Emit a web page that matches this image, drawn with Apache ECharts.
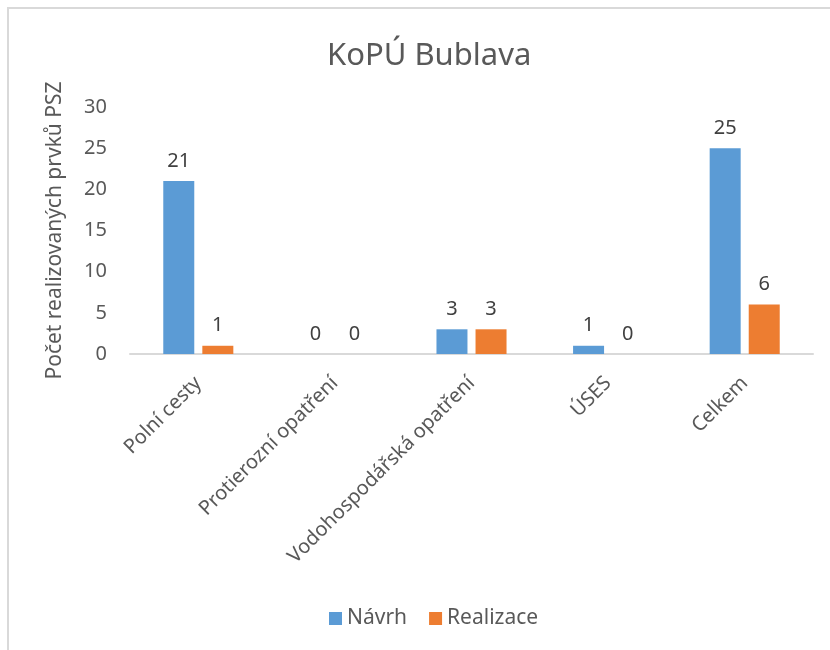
<!DOCTYPE html>
<html>
<head>
<meta charset="utf-8">
<script src="https://cdn.jsdelivr.net/npm/echarts@6/dist/echarts.min.js"></script>
<style>
  html, body { margin: 0; padding: 0; background: #fff; }
  #chart { width: 830px; height: 650px; }
</style>
</head>
<body>
<div id="chart"></div>
<script>
const categories = ['Polní cesty', 'Protierozní opatření', 'Vodohospodářská opatření', 'ÚSES', 'Celkem']
const navrh = [21, 0, 3, 1, 25]
const realizace = [1, 0, 3, 0, 6]
const seriesNames = ['Návrh', 'Realizace']

const font = 'Noto Sans'
const textColor = '#595959'

const chart = echarts.init(document.getElementById('chart'))

const valueLabel = {
  show: true,
  position: 'top',
  distance: 10,
  fontFamily: font,
  fontSize: 20,
  color: '#404040'
}

chart.setOption({
  backgroundColor: '#fff',
  animation: false,
  title: {
    text: 'KoPÚ Bublava',
    left: 322,
    top: 36,
    textStyle: {
      fontFamily: font,
      fontSize: 31,
      fontWeight: 'normal',
      color: textColor
    }
  },
  legend: {
    data: seriesNames,
    top: 603,
    left: 324,
    itemWidth: 13,
    itemHeight: 13,
    itemGap: 22,
    icon: 'rect',
    textStyle: {
      fontFamily: font,
      fontSize: 21,
      color: textColor
    }
  },
  grid: {
    left: 130,
    right: 17,
    top: 107,
    bottom: 296
  },
  xAxis: {
    type: 'category',
    data: categories,
    axisLine: { lineStyle: { color: '#d9d9d9', width: 2 } },
    axisTick: { show: false },
    axisLabel: {
      rotate: 45,
      interval: 0,
      margin: 26,
      fontFamily: font,
      fontSize: 20,
      color: textColor
    }
  },
  yAxis: {
    type: 'value',
    min: 0,
    max: 30,
    interval: 5,
    name: 'Počet realizovaných prvků PSZ',
    nameLocation: 'middle',
    nameGap: 64,
    nameTextStyle: {
      fontFamily: font,
      fontSize: 21,
      color: textColor
    },
    axisLine: { show: false },
    axisTick: { show: false },
    splitLine: { show: false },
    axisLabel: {
      margin: 23,
      fontFamily: font,
      fontSize: 20,
      color: textColor
    }
  },
  series: [
    {
      name: seriesNames[0],
      type: 'bar',
      data: navrh,
      barWidth: 31,
      barGap: '26%',
      itemStyle: { color: '#5B9BD5' },
      label: valueLabel
    },
    {
      name: seriesNames[1],
      type: 'bar',
      data: realizace,
      barWidth: 31,
      itemStyle: { color: '#ED7D31' },
      label: valueLabel
    }
  ],
  graphic: [
    {
      type: 'polyline',
      silent: true,
      shape: { points: [[8, 650], [8, 8], [830, 8]] },
      style: { fill: null, stroke: '#d9d9d9', lineWidth: 2 }
    }
  ]
})

window.addEventListener('resize', () => chart.resize())
</script>
</body>
</html>
